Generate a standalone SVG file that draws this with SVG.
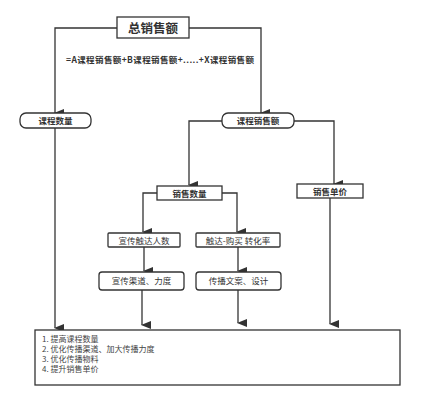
<svg xmlns="http://www.w3.org/2000/svg" width="422" height="406" viewBox="0 0 422 406">
<defs>
<marker id="arr" markerWidth="8" markerHeight="10" refX="4" refY="9" orient="auto" markerUnits="userSpaceOnUse" viewBox="0 0 8 10">
<path d="M0,0 L8,0 L4,10 Z" fill="#333"/>
</marker>
</defs>
<style>
.box{fill:#fff;stroke:#333;stroke-width:1.3}
.ln{fill:none;stroke:#333;stroke-width:1.3}
.t{font-family:"Noto Sans CJK SC","Noto Sans",sans-serif;fill:#333;text-anchor:middle}
.b{font-weight:bold}
.l{font-family:"Noto Sans CJK SC","Noto Sans",sans-serif;fill:#444;font-size:8px}
</style>
<rect width="422" height="406" fill="#fff"/>
<g id="connectors">
<path class="ln" d="M117,28 H55 V113" marker-end="url(#arr)"/>
<path class="ln" d="M189,28 H261 V113" marker-end="url(#arr)"/>
<path class="ln" d="M222,121 H189 V185" marker-end="url(#arr)"/>
<path class="ln" d="M294,121 H334 V184" marker-end="url(#arr)"/>
<path class="ln" d="M157,193 H143 V232" marker-end="url(#arr)"/>
<path class="ln" d="M222,193 H237 V232" marker-end="url(#arr)"/>
<path class="ln" d="M144,247 V271" marker-end="url(#arr)"/>
<path class="ln" d="M238,247 V271" marker-end="url(#arr)"/>
<path class="ln" d="M142,290 V325" marker-end="url(#arr)"/>
<path class="ln" d="M238,290 V323" marker-end="url(#arr)"/>
<path class="ln" d="M55,128 V328" marker-end="url(#arr)"/>
<path class="ln" d="M330,198 V324" marker-end="url(#arr)"/>
</g>
<text class="t b" x="160" y="63" font-size="8.5" textLength="188" lengthAdjust="spacing">=A课程销售额+B课程销售额+.....+X课程销售额</text>
<g id="n-total">
<rect class="box" x="117" y="17" width="72" height="21"/>
<text class="t b" x="153" y="32.5" font-size="12.5">总销售额</text>
</g>
<g id="n-course-count">
<rect class="box" x="20" y="113" width="71" height="15" rx="6"/>
<text class="t b" x="55.5" y="124" font-size="8.5">课程数量</text>
</g>
<g id="n-course-sales">
<rect class="box" x="222" y="113" width="72" height="15" rx="6"/>
<text class="t b" x="258" y="124" font-size="8.5">课程销售额</text>
</g>
<g id="n-sales-count">
<rect class="box" x="157" y="186" width="65" height="14"/>
<text class="t b" x="189.5" y="196.5" font-size="8.5">销售数量</text>
</g>
<g id="n-unit-price">
<rect class="box" x="297" y="184" width="66" height="14"/>
<text class="t b" x="330" y="194.5" font-size="8.5">销售单价</text>
</g>
<g id="n-reach">
<rect class="box" x="108" y="233" width="72" height="14" rx="1"/>
<text class="t" x="144" y="243.5" font-size="8.5">宣传触达人数</text>
</g>
<g id="n-conv">
<rect class="box" x="196" y="233" width="84" height="14" rx="1"/>
<text class="t" x="238" y="243.5" font-size="8.5">触达-购买 转化率</text>
</g>
<g id="n-channel">
<rect class="box" x="99" y="272" width="85" height="18" rx="3"/>
<text class="t" x="141.5" y="284" font-size="8.5">宣传渠道、力度</text>
</g>
<g id="n-copy">
<rect class="box" x="196" y="272" width="85" height="18" rx="3"/>
<text class="t" x="238.5" y="284" font-size="8.5">传播文案、设计</text>
</g>
<g id="n-actions">
<rect class="box" x="35" y="330" width="365" height="55"/>
<text class="l" x="42" y="341.5">1. 提高课程数量</text>
<text class="l" x="42" y="351.5">2. 优化传播渠道、加大传播力度</text>
<text class="l" x="42" y="361.5">3. 优化传播物料</text>
<text class="l" x="42" y="371.5">4. 提升销售单价</text>
</g>
</svg>
